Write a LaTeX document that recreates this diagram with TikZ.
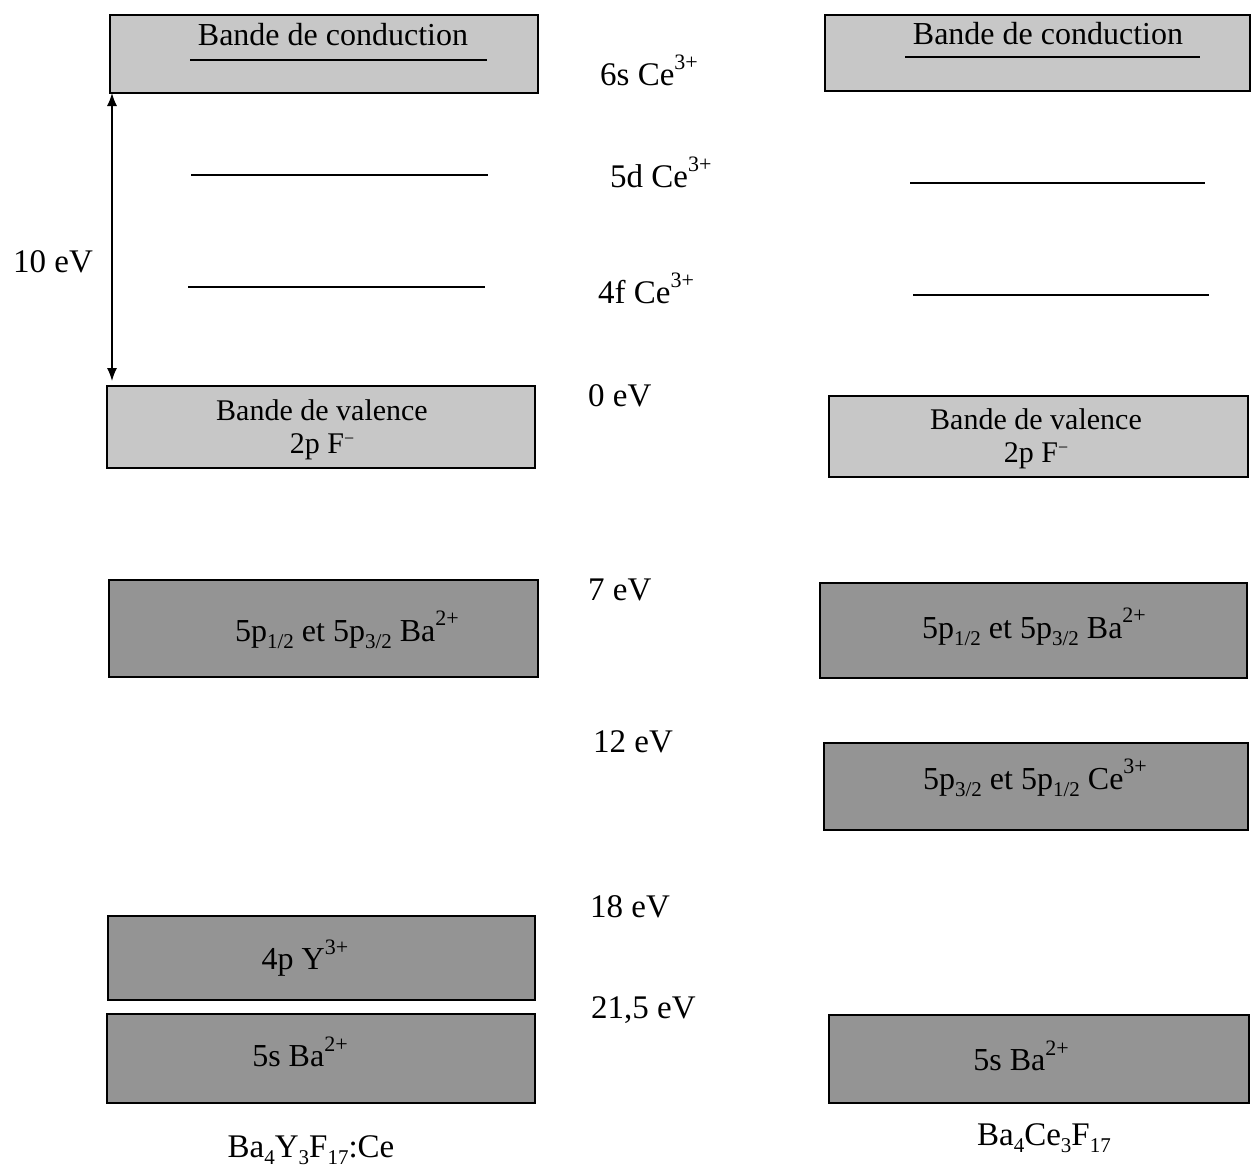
\documentclass[tikz,border=0pt]{standalone}
\usepackage{fontspec}
\setmainfont{Liberation Serif}
\usetikzlibrary{arrows.meta}
\newcommand\mysup[1]{\raisebox{0.48em}{\fontsize{22}{22}\selectfont #1}}
\newcommand\mysub[1]{\raisebox{-0.22em}{\fontsize{21}{21}\selectfont #1}}
\newcommand\myminus{\raisebox{0.3em}{\fontsize{18}{18}\selectfont −}}
\begin{document}
\begin{tikzpicture}[x=1pt,y=-1pt,
  band/.style={draw=black, line width=1.6pt, inner sep=0pt},
  lightband/.style={band, fill=black!22},
  darkband/.style={band, fill=black!42},
  bandtxt/.style={font=\fontsize{32}{28}\selectfont, inner sep=0pt},
  valtxt/.style={font=\fontsize{30}{30}\selectfont, inner sep=0pt, anchor=base},
  lbl/.style={font=\fontsize{33}{33}\selectfont, inner sep=0pt, anchor=west},
  level/.style={line width=1.3pt},
  gap/.style={line width=1.4pt, {Latex[length=13pt,width=10pt]}-{Latex[length=13pt,width=10pt]}}
]
\useasboundingbox (0,0) rectangle (1251,1168);

% ---------- left column ----------
\node[lightband, minimum width=428pt, minimum height=78pt] (cbL) at (324,54) {};
\node[bandtxt] (cbLt) at (333,35) {Bande de conduction};
\coordinate (cbLa) at (190,60); \coordinate (cbLb) at (487,60);
\draw[level] (cbLa) -- (cbLb);

\coordinate (dLa) at (191,175); \coordinate (dLb) at (488,175);
\draw[level] (dLa) -- (dLb);
\coordinate (fLa) at (188,287); \coordinate (fLb) at (485,287);
\draw[level] (fLa) -- (fLb);

\node[lightband, minimum width=428pt, minimum height=82pt] (vbL) at (321,427) {};
\node[valtxt] (vbLt1) at (322,420) {Bande de valence};
\node[valtxt] (vbLt2) at (322,453) {2p F\myminus};

\node[darkband, minimum width=429pt, minimum height=97pt] (baL) at (323.5,628.5) {};
\node[bandtxt] (baLt) at (347,630) {5p\mysub{1/2} et 5p\mysub{3/2} Ba\mysup{2+}};

\node[darkband, minimum width=427pt, minimum height=84pt] (yL) at (321.5,958) {};
\node[bandtxt] (yLt) at (305,958) {4p Y\mysup{3+}};

\node[darkband, minimum width=428pt, minimum height=89pt] (sL) at (321,1058.5) {};
\node[bandtxt] (sLt) at (300,1052) {5s Ba\mysup{2+}};

\coordinate (arT) at (112,93);
\coordinate (arB) at (112,381);
\draw[gap] (arT) -- (arB);
\node[lbl, anchor=center] (gapt) at (53,262) {10 eV};

\node[lbl, anchor=center] (capL) at (311,1150) {Ba\mysub{4}Y\mysub{3}F\mysub{17}:Ce};

% ---------- middle labels ----------
\node[lbl] (l6s) at (600,70) {6s Ce\mysup{3+}};
\node[lbl] (l5d) at (610,172) {5d Ce\mysup{3+}};
\node[lbl] (l4f) at (598,288) {4f Ce\mysup{3+}};
\node[lbl] (l0) at (588,396) {0 eV};
\node[lbl] (l7) at (588,590) {7 eV};
\node[lbl] (l12) at (593,742) {12 eV};
\node[lbl] (l18) at (590,907) {18 eV};
\node[lbl] (l21) at (591,1010) {21,5 eV};

% ---------- right column ----------
\node[lightband, minimum width=425pt, minimum height=76pt] (cbR) at (1037.5,53) {};
\node[bandtxt] (cbRt) at (1048,34) {Bande de conduction};
\coordinate (cbRa) at (905,57); \coordinate (cbRb) at (1200,57);
\draw[level] (cbRa) -- (cbRb);

\coordinate (dRa) at (910,183); \coordinate (dRb) at (1205,183);
\draw[level] (dRa) -- (dRb);
\coordinate (fRa) at (913,295); \coordinate (fRb) at (1209,295);
\draw[level] (fRa) -- (fRb);

\node[lightband, minimum width=419pt, minimum height=81pt] (vbR) at (1038.5,436.5) {};
\node[valtxt] (vbRt1) at (1036,429) {Bande de valence};
\node[valtxt] (vbRt2) at (1036,462) {2p F\myminus};

\node[darkband, minimum width=427pt, minimum height=95pt] (baR) at (1033.5,630.5) {};
\node[bandtxt] (baRt) at (1034,627) {5p\mysub{1/2} et 5p\mysub{3/2} Ba\mysup{2+}};

\node[darkband, minimum width=424pt, minimum height=87pt] (ceR) at (1036,786.5) {};
\node[bandtxt] (ceRt) at (1035,778) {5p\mysub{3/2} et 5p\mysub{1/2} Ce\mysup{3+}};

\node[darkband, minimum width=420pt, minimum height=88pt] (sR) at (1039,1059) {};
\node[bandtxt] (sRt) at (1021,1056) {5s Ba\mysup{2+}};

\node[lbl, anchor=center] (capR) at (1044,1138) {Ba\mysub{4}Ce\mysub{3}F\mysub{17}};
\end{tikzpicture}
\end{document}
